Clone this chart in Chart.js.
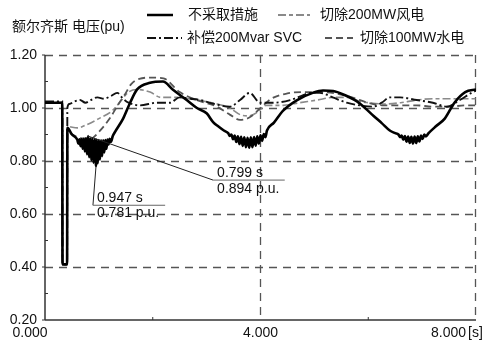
<!DOCTYPE html>
<html>
<head>
<meta charset="utf-8">
<script src="https://cdn.jsdelivr.net/npm/chart.js@4.4.1/dist/chart.umd.min.js"></script>
<style>
  html, body { margin: 0; padding: 0; background: #fff; }
  #wrap { width: 483px; height: 340px; position: relative; }
</style>
</head>
<body>
<div id="wrap"><canvas id="c"></canvas></div>
<script>
// time (s) and voltage (pu)
const tNone = [0, 0.32, 0.325, 0.41, 0.415, 0.5, 0.6,
  0.62, 0.64, 0.66, 0.68, 0.70, 0.72, 0.74, 0.76, 0.78, 0.80,
  0.82, 0.84, 0.86, 0.88, 0.90, 0.92, 0.947, 0.96, 0.98, 1.00,
  1.02, 1.04, 1.06, 1.08, 1.10, 1.12, 1.14, 1.16, 1.18, 1.20, 1.22,
  1.26, 1.30, 1.45, 1.58, 1.71, 1.95, 2.19, 2.37, 2.63, 2.82, 3.0, 3.12, 3.22, 3.32,
  3.40, 3.43, 3.46, 3.49, 3.52, 3.55, 3.58, 3.61, 3.64, 3.67, 3.70, 3.73, 3.76, 3.79, 3.82, 3.85, 3.88, 3.91, 3.94, 3.97, 4.00, 4.03, 4.06, 4.09, 4.12,
  4.25, 4.42, 4.68, 4.97, 5.16, 5.35, 5.55, 5.79, 5.94, 6.1, 6.25, 6.4, 6.5,
  6.56, 6.59, 6.62, 6.65, 6.68, 6.71, 6.74, 6.77, 6.80, 6.83, 6.86, 6.89, 6.92, 6.95, 6.98, 7.01, 7.04, 7.07,
  7.12, 7.25, 7.42, 7.6, 7.8, 8.0];
const vNone = [1.02, 1.02, 0.41, 0.41, 0.925, 0.90, 0.88,
  0.865, 0.882, 0.856, 0.883, 0.846, 0.884, 0.836, 0.886, 0.825, 0.894,
  0.814, 0.886, 0.803, 0.884, 0.793, 0.882, 0.781, 0.880, 0.792, 0.879,
  0.805, 0.878, 0.818, 0.878, 0.832, 0.879, 0.846, 0.881, 0.862, 0.884, 0.872,
  0.895, 0.91, 0.96, 1.02, 1.07, 1.095, 1.10, 1.07, 1.03, 1.0, 0.98, 0.947, 0.93, 0.915,
  0.905, 0.895, 0.900, 0.882, 0.896, 0.872, 0.893, 0.864, 0.891, 0.857, 0.889, 0.852, 0.888, 0.850, 0.889, 0.852, 0.890, 0.858, 0.893, 0.866, 0.897, 0.876, 0.902, 0.890, 0.915,
  0.945, 0.99, 1.03, 1.057, 1.066, 1.064, 1.05, 1.025, 1.0, 0.97, 0.943, 0.915, 0.905,
  0.900, 0.890, 0.896, 0.880, 0.894, 0.873, 0.892, 0.868, 0.891, 0.866, 0.892, 0.868, 0.893, 0.874, 0.896, 0.883, 0.900, 0.893,
  0.905, 0.93, 0.96, 1.02, 1.06, 1.07];

const tWind = [0, 0.32, 0.325, 0.41, 0.415, 0.6, 0.75, 1.0, 1.25, 1.42, 1.55, 1.7, 1.95, 2.15, 2.45, 2.82, 3.2, 3.43,
  3.62, 3.78, 3.95, 4.1, 4.42, 4.73, 5.05, 5.35, 5.65, 5.84, 6.0, 6.3, 6.6, 6.9, 7.2, 7.5, 7.8, 8.0];
const vWind = [1.02, 1.02, 0.41, 0.41, 0.93, 0.925, 0.935, 0.96, 0.99, 1.03, 1.06, 1.07, 1.06, 1.04, 1.04, 1.03, 1.015, 1.0,
  0.975, 0.97, 0.985, 1.01, 1.01, 1.02, 1.03, 1.04, 1.04, 1.025, 1.02, 1.015, 1.02, 1.03, 1.035, 1.035, 1.035, 1.035];

const tSvc = [0, 0.32, 0.325, 0.41, 0.415, 0.45, 0.55, 0.65, 0.75, 0.85, 0.97, 1.1, 1.22, 1.34, 1.45, 1.55, 1.76, 2.08, 2.32, 2.5,
  2.7, 2.88, 3.15, 3.43, 3.62, 3.8, 3.99, 4.25, 4.55, 4.75, 4.92, 5.1, 5.34, 5.6, 5.84, 6.09, 6.25, 6.4, 6.59, 6.9,
  7.2, 7.46, 7.7, 7.94, 8.0];
const vSvc = [1.025, 1.025, 0.41, 0.41, 1.0, 1.015, 1.025, 1.03, 1.02, 1.03, 1.04, 1.035, 1.045, 1.057, 1.035, 1.02, 1.01, 1.02, 1.02, 1.04,
  1.035, 1.03, 1.015, 1.005, 1.03, 1.057, 1.02, 1.02, 1.03, 1.045, 1.057, 1.057, 1.04, 1.02, 1.01, 1.005, 1.02, 1.04, 1.04, 1.03,
  1.02, 1.005, 1.03, 1.06, 1.065];

const tHydro = [0, 0.32, 0.325, 0.41, 0.415, 0.55, 0.7, 0.85, 1.0, 1.2, 1.35, 1.48, 1.6, 1.75, 2.0, 2.2, 2.5, 2.82, 3.19, 3.43,
  3.62, 3.8, 4.0, 4.2, 4.5, 4.8, 5.1, 5.4, 5.7, 6.0, 6.3, 6.6, 6.9, 7.2, 7.5, 7.8, 8.0];
const vHydro = [1.02, 1.02, 0.41, 0.41, 0.91, 0.895, 0.885, 0.885, 0.91, 0.96, 1.01, 1.05, 1.09, 1.11, 1.115, 1.112, 1.06, 1.03, 1.005, 0.975,
  0.955, 0.965, 1.0, 1.035, 1.055, 1.06, 1.06, 1.055, 1.04, 1.02, 1.01, 1.01, 1.01, 1.005, 1.005, 1.01, 1.01];

const seriesNames = ['不采取措施', '切除200MW风电', '补偿200Mvar SVC', '切除100MW水电'];
const yMajor = [1.2, 1.0, 0.8, 0.6, 0.4, 0.2];
const yMinor = [1.1, 0.9, 0.7, 0.5, 0.3];
const xMajor = [0, 4, 8];
const xMinor = [2, 6];
const xLabels = ['0.000', '4.000', '8.000'];
// callouts: [t, v, label1, label2]
const callouts = [[0.799, 0.894, '0.799 s', '0.894 p.u.'], [0.947, 0.781, '0.947 s', '0.781 p.u.']];

const FONT = '14px "Liberation Sans", "Noto Sans CJK SC", sans-serif';
const pts = (t, v) => t.map((x, i) => ({ x: x, y: v[i] }));

const styles = [
  { color: '#000', width: 2.6, dash: [] },
  { color: '#8a8a8a', width: 1.6, dash: [8, 3, 4, 3] },
  { color: '#111', width: 1.9, dash: [9, 3, 2, 3] },
  { color: '#555', width: 1.8, dash: [7, 4] }
];

function seg(ctx, x1, y1, x2, y2) {
  ctx.beginPath(); ctx.moveTo(x1, y1); ctx.lineTo(x2, y2); ctx.stroke();
}

const refPlugin = {
  id: 'ref',
  beforeDatasetsDraw(chart) {
    const { ctx, chartArea: a, scales: { x, y } } = chart;
    ctx.save();
    ctx.strokeStyle = '#555';
    ctx.lineWidth = 1.3;
    ctx.setLineDash([8, 6]);
    yMajor.slice(0, 5).forEach(v => {
      const py = Math.round(y.getPixelForValue(v)) + 0.5;
      seg(ctx, a.left, py, a.right, py);
    });
    xMajor.slice(1).forEach(v => {
      const px = Math.round(x.getPixelForValue(v)) - 0.5;
      seg(ctx, px, a.top, px, a.bottom);
    });
    ctx.setLineDash([]);
    ctx.strokeStyle = '#333';
    ctx.lineWidth = 1.5;
    seg(ctx, a.left, a.top, a.left, a.bottom);
    seg(ctx, a.left, a.bottom, a.right, a.bottom);
    ctx.lineWidth = 1;
    yMajor.forEach(v => { const py = y.getPixelForValue(v); seg(ctx, a.left - 3, py, a.left, py); });
    yMinor.forEach(v => { const py = y.getPixelForValue(v); seg(ctx, a.left, py, a.left + 3, py); });
    xMinor.forEach(v => { const px = x.getPixelForValue(v); seg(ctx, px, a.bottom, px, a.bottom - 3); });
    ctx.restore();
  },
  afterDatasetsDraw(chart) {
    const { ctx, scales: { x, y } } = chart;
    ctx.save();
    ctx.font = FONT;
    ctx.fillStyle = '#111';
    ctx.textBaseline = 'alphabetic';
    ctx.textAlign = 'left';
    // callout 1: slanted leader to the right
    let c = callouts[0];
    let px = x.getPixelForValue(c[0]), py = y.getPixelForValue(c[1]);
    let ex = x.getPixelForValue(3.12), ey = y.getPixelForValue(0.728);
    let rx = x.getPixelForValue(4.45);
    ctx.strokeStyle = '#222'; ctx.lineWidth = 1;
    seg(ctx, px, py, ex, ey);
    ctx.strokeStyle = '#666';
    seg(ctx, ex, ey, rx, ey);
    ctx.fillText(c[2], ex + 4, ey - 3);
    ctx.fillText(c[3], ex + 4, ey + 13);
    // callout 2: leader going down
    c = callouts[1];
    px = x.getPixelForValue(c[0]); py = y.getPixelForValue(c[1]);
    ex = x.getPixelForValue(0.89); ey = y.getPixelForValue(0.633);
    rx = x.getPixelForValue(2.23);
    ctx.strokeStyle = '#222';
    seg(ctx, px, py, ex, ey);
    ctx.strokeStyle = '#666';
    seg(ctx, ex, ey, rx, ey);
    ctx.fillText(c[2], ex + 4, ey - 3);
    ctx.fillText(c[3], ex + 4, ey + 12);
    ctx.restore();
  },
  afterDraw(chart) {
    const { ctx, chartArea: a, scales: { x, y } } = chart;
    ctx.save();
    ctx.font = FONT;
    ctx.fillStyle = '#111';
    ctx.textBaseline = 'middle';
    ctx.textAlign = 'right';
    yMajor.forEach(v => ctx.fillText(v.toFixed(2), 37, y.getPixelForValue(v)));
    const ly = a.bottom + 13;
    ctx.textAlign = 'center';
    ctx.fillText(xLabels[0], x.getPixelForValue(xMajor[0]) - 15, ly);
    ctx.fillText(xLabels[1], x.getPixelForValue(xMajor[1]), ly);
    ctx.textAlign = 'right';
    ctx.fillText(xLabels[2], x.getPixelForValue(xMajor[2]) - 10, ly);
    ctx.textAlign = 'left';
    ctx.fillText('[s]', x.getPixelForValue(xMajor[2]) - 8, ly);
    // title
    ctx.fillText('额尔齐斯 电压(pu)', 12, 27);
    // legend, two rows
    const slots = [[147, 173, 188, 15], [278, 310, 320, 15], [147, 182, 187, 38], [325, 353, 360, 38]];
    slots.forEach((s, i) => {
      const st = styles[i];
      ctx.strokeStyle = st.color;
      ctx.lineWidth = i === 0 ? 2.5 : 2;
      ctx.setLineDash(st.dash);
      seg(ctx, s[0], s[3], s[1], s[3]);
      ctx.setLineDash([]);
      ctx.fillText(seriesNames[i], s[2], s[3]);
    });
    ctx.restore();
  }
};

const data = [pts(tNone, vNone), pts(tWind, vWind), pts(tSvc, vSvc), pts(tHydro, vHydro)];
const drawOrder = [0, 3, 1, 2];

new Chart(document.getElementById('c'), {
  type: 'line',
  data: {
    datasets: data.map((d, i) => ({
      label: seriesNames[i],
      data: d,
      borderColor: styles[i].color,
      borderWidth: styles[i].width,
      borderDash: styles[i].dash,
      pointRadius: 0,
      fill: false,
      cubicInterpolationMode: 'monotone',
      order: drawOrder[i]
    }))
  },
  options: {
    responsive: true,
    maintainAspectRatio: false,
    animation: false,
    layout: { padding: { top: 55, right: 7, bottom: 0, left: 0 } },
    scales: {
      x: {
        type: 'linear', min: 0, max: 8,
        ticks: { display: false },
        grid: { display: false },
        border: { display: false },
        afterFit: s => { s.height = 20; }
      },
      y: {
        min: 0.2, max: 1.2,
        ticks: { display: false },
        grid: { display: false },
        border: { display: false },
        afterFit: s => { s.width = 45; }
      }
    },
    plugins: {
      legend: { display: false },
      tooltip: { enabled: false }
    }
  },
  plugins: [refPlugin]
});
</script>
</body>
</html>
